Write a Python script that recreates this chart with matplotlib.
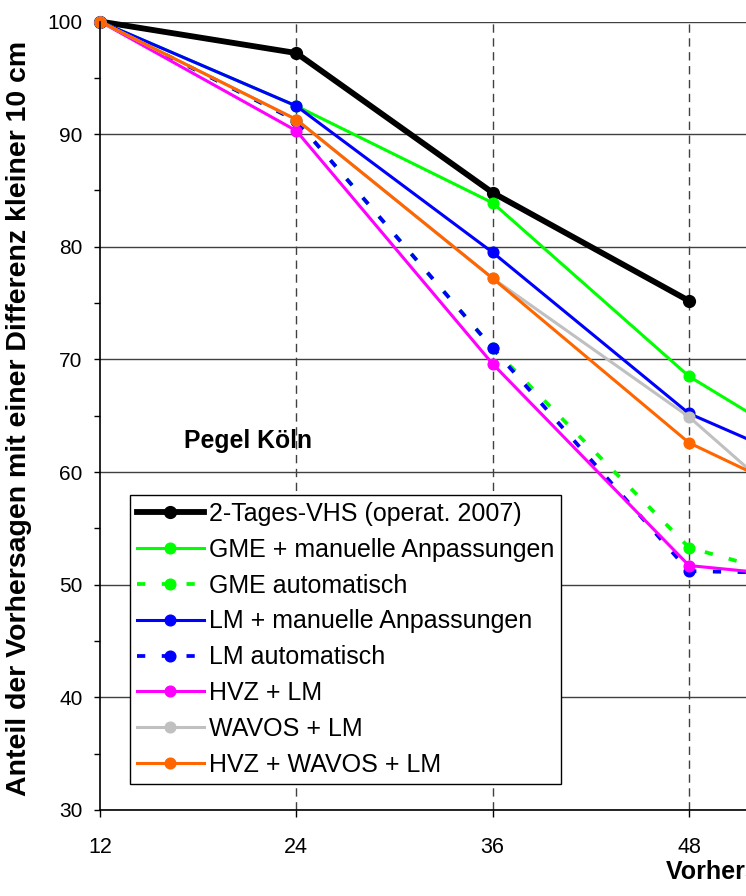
import matplotlib
matplotlib.use("Agg")
import matplotlib.pyplot as plt
from matplotlib.ticker import MultipleLocator

plt.rcParams['font.family'] = ['Liberation Sans', 'DejaVu Sans']

hours = [12, 24, 36, 48, 60]
x_ticks = [12, 24, 36, 48]

vhs_2007 = [100, 97.2, 84.8, 75.2]
gme_manual = [100, 92.5, 83.9, 68.5, 57.9]
gme_auto = [100, 91.2, 71.0, 53.3, 48.4]
lm_manual = [100, 92.5, 79.5, 65.2, 57.6]
lm_auto = [100, 91.2, 71.0, 51.2, 50.9]
hvz_lm = [100, 90.3, 69.6, 51.7, 50.0]
wavos_lm = [100, 91.3, 77.2, 64.9, 49.6]
hvz_wavos_lm = [100, 91.3, 77.2, 62.6, 54.3]

dotted = (0, (2.2, 4.4))
series = [
    ("2-Tages-VHS (operat. 2007)", vhs_2007, "#000000", "-", 4.2, 8.5),
    ("GME + manuelle Anpassungen", gme_manual, "#00ff00", "-", 2.2, 7.7),
    ("GME automatisch", gme_auto, "#00ff00", dotted, 2.7, 7.7),
    ("LM + manuelle Anpassungen", lm_manual, "#0000ff", "-", 2.2, 7.7),
    ("LM automatisch", lm_auto, "#0000ff", dotted, 2.7, 7.7),
    ("HVZ + LM", hvz_lm, "#ff00ff", "-", 2.2, 7.7),
    ("WAVOS + LM", wavos_lm, "#c0c0c0", "-", 2.2, 7.7),
    ("HVZ + WAVOS + LM", hvz_wavos_lm, "#ff6600", "-", 2.2, 7.7),
]

fig = plt.figure(figsize=(7.46, 8.96), dpi=100)
ax = fig.add_axes([0.134, 0.096, 1.316, 0.880])

for label, vals, color, ls, lw, ms in series:
    ax.plot(hours[:len(vals)], vals, color=color, linestyle=ls, linewidth=lw,
            marker='o', markersize=ms, markerfacecolor=color,
            markeredgecolor=color, label=label, clip_on=False,
            dash_capstyle='butt')

ax.set_xlim(12, 72)
ax.set_ylim(30, 100)
ax.set_xticks(x_ticks)
ax.yaxis.set_major_locator(MultipleLocator(10))
ax.yaxis.set_minor_locator(MultipleLocator(5))

ax.grid(axis='y', which='major', color='#404040', linewidth=1.0, linestyle='-')
for xv in x_ticks[1:]:
    ax.axvline(xv, color='#404040', linewidth=1.0, linestyle=(0, (6, 4)), zorder=0.5)
ax.set_axisbelow(True)

for s in ['top', 'right']:
    ax.spines[s].set_visible(False)
ax.spines['left'].set_linewidth(1.2)
ax.spines['bottom'].set_linewidth(1.2)

ax.tick_params(axis='y', which='both', direction='out', length=4.5, width=1,
               labelsize=15, pad=8)
ax.tick_params(axis='x', which='major', direction='out', length=5, width=1,
               labelsize=15.5, pad=14.5)

ax.set_ylabel('Anteil der Vorhersagen mit einer Differenz kleiner 10 cm',
              fontsize=20.5, fontweight='bold', va='center')
ax.yaxis.set_label_coords(-0.0825, 0.497)
ax.set_xlabel('Vorhersagezeitraum [h]', fontsize=18, fontweight='bold',
              ha='left')
ax.xaxis.set_label_coords(0.577, -0.063)

ax.text(21.07, 62.76, 'Pegel Köln', fontsize=17.8, fontweight='bold',
        ha='center', va='center')

leg = ax.legend(loc='upper left', bbox_to_anchor=(0.0305, 0.3994),
                borderaxespad=0, fontsize=18, frameon=True, fancybox=False,
                edgecolor='black', framealpha=1, handlelength=2.69,
                handletextpad=0.2, labelspacing=0.475, borderpad=0.27)
leg.get_frame().set_linewidth(1.0)

fig.savefig('out.png', dpi=100)
